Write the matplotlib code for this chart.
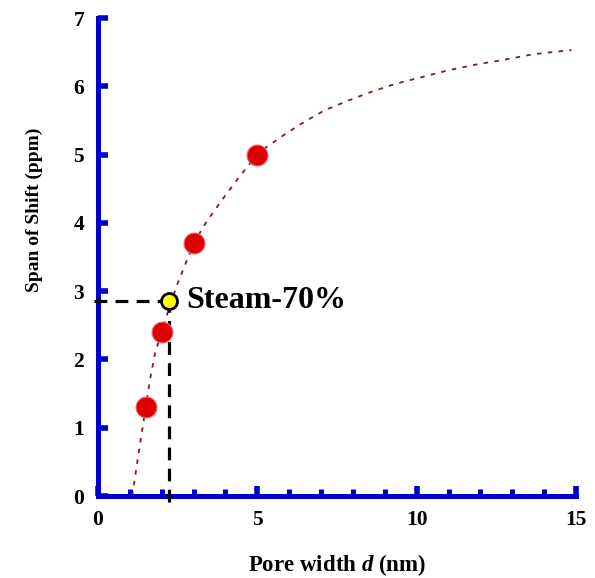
import matplotlib
matplotlib.use("Agg")
import matplotlib.pyplot as plt

plt.rcParams['font.family'] = ['Liberation Serif', 'DejaVu Serif']
plt.rcParams['font.weight'] = 'bold'
plt.rcParams['mathtext.fontset'] = 'custom'
plt.rcParams['mathtext.it'] = 'Liberation Serif:italic:bold'
plt.rcParams['mathtext.rm'] = 'Liberation Serif:bold'

# measured data points
pore_width = [1.5, 2.0, 3.0, 5.0]
span_shift = [1.3, 2.4, 3.7, 5.0]

# highlighted sample
steam_x = 2.23
steam_y = 2.86
steam_label = "Steam-70%"

# fitted curve
curve_x = [1.07, 1.11, 1.32, 1.5, 1.63, 1.79, 2.0, 2.21, 2.47, 2.78, 3.0, 3.41, 3.93,
           4.46, 5.0, 5.29, 5.78, 6.44, 7.12, 7.85, 8.64, 9.37, 10.21, 11.04, 11.88,
           12.77, 13.66, 14.86]
curve_y = [0.0, 0.11, 0.77, 1.3, 1.70, 2.09, 2.4, 2.72, 3.08, 3.44, 3.7, 4.02, 4.36,
           4.69, 5.0, 5.11, 5.27, 5.47, 5.65, 5.79, 5.93, 6.04, 6.14, 6.24, 6.32,
           6.39, 6.47, 6.53]

x_ticks = [0, 5, 10, 15]
y_ticks = [0, 1, 2, 3, 4, 5, 6, 7]

blue = '#0000cc'

fig = plt.figure(figsize=(5.95, 5.78), dpi=100)
ax = fig.add_axes([98/595, 82/578, 478/595, 478/578])

ax.plot(curve_x, curve_y, color='#7a1f1f', lw=1.3, linestyle=(0, (2.5, 3.5)), zorder=2)

ax.plot([steam_x, steam_x], [-0.09, steam_y], color='black', lw=2.3,
        linestyle=(0, (4, 2.6)), clip_on=False, zorder=3)
ax.plot([-0.12, steam_x], [steam_y, steam_y], color='black', lw=2.3,
        linestyle=(0, (4, 2.6)), clip_on=False, zorder=3)

ax.plot(pore_width, span_shift, linestyle='none', marker='o', markersize=15,
        markerfacecolor='#dd0000', markeredgecolor='#e86a6a', markeredgewidth=0.8, zorder=4)
ax.plot([steam_x], [steam_y], linestyle='none', marker='o', markersize=11.5,
        markerfacecolor='#ffff00', markeredgecolor='black', markeredgewidth=2, zorder=5,
        clip_on=False)
ax.text(steam_x + 0.53, steam_y, steam_label, fontsize=23, fontweight='bold',
        va='center', ha='left')

ax.set_xlim(0, 15)
ax.set_ylim(0, 7)

for s in ['top', 'right']:
    ax.spines[s].set_visible(False)
for s in ['left', 'bottom']:
    ax.spines[s].set_color(blue)
    ax.spines[s].set_linewidth(3.6)
    ax.spines[s].set_capstyle('projecting')

ax.set_xticks(x_ticks)
ax.set_xticks(range(0, 16), minor=True)
ax.set_yticks(y_ticks)
ax.tick_params(axis='x', which='major', direction='in', length=7.5, width=4, color=blue,
               labelsize=15.5, pad=10)
ax.tick_params(axis='x', which='minor', direction='in', length=5, width=3.6, color=blue)
ax.tick_params(axis='y', which='major', direction='in', length=7.5, width=4, color=blue,
               labelsize=15.5, pad=10)
for lab in ax.get_xticklabels() + ax.get_yticklabels():
    lab.set_fontweight('bold')

ax.set_xlabel(r"Pore width $d$ (nm)", fontsize=16.5, fontweight='bold')
ax.xaxis.set_label_coords(0.5, -0.118)
ax.set_ylabel("Span of Shift (ppm)", fontsize=14, fontweight='bold')
ax.yaxis.set_label_coords(-0.115, 0.598)

fig.savefig("out.png", dpi=100)
